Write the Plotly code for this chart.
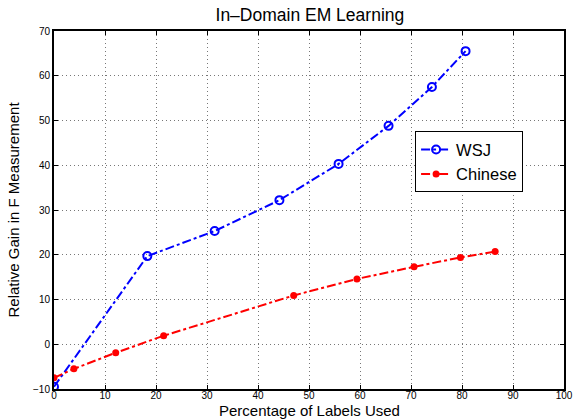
import plotly.graph_objects as go

wsj_x = [0, 18.3, 31.5, 44.2, 55.8, 65.6, 74.1, 80.7]
wsj_y = [-9.5, 19.7, 25.3, 32.2, 40.3, 48.8, 57.5, 65.5]
chn_x = [0, 3.9, 12.1, 21.5, 47.0, 59.4, 70.6, 79.7, 86.5]
chn_y = [-7.5, -5.5, -1.9, 1.9, 10.9, 14.6, 17.3, 19.4, 20.7]
x_ticks = [0, 10, 20, 30, 40, 50, 60, 70, 80, 90, 100]
y_ticks = [-10, 0, 10, 20, 30, 40, 50, 60, 70]

fig = go.Figure()
fig.add_trace(go.Scatter(
    x=wsj_x, y=wsj_y, name="WSJ", mode="lines+markers",
    line=dict(color="#0000ff", width=2, dash="dashdot"),
    marker=dict(symbol="circle-open", size=8, color="#0000ff", line=dict(width=2, color="#0000ff")),
))
fig.add_trace(go.Scatter(
    x=chn_x, y=chn_y, name="Chinese", mode="lines+markers",
    line=dict(color="#ff0000", width=2, dash="dashdot"),
    marker=dict(symbol="circle", size=7, color="#ff0000"),
))

axis_common = dict(
    showgrid=True, gridcolor="#777777", griddash="1px,3px", gridwidth=1,
    showline=True, linecolor="black", linewidth=2, mirror="ticks",
    ticks="inside", ticklen=4, tickcolor="black",
    zeroline=False, automargin=False,
)
fig.update_xaxes(range=[0, 100], tickvals=x_ticks, tickfont=dict(size=10, color="black"),
                 ticklabelstandoff=-4, **axis_common)
fig.update_yaxes(range=[-10, 70], tickvals=y_ticks, tickfont=dict(size=10, color="black"),
                 title=dict(text="Relative Gain in F Measurement", font=dict(size=15, color="black"), standoff=10),
                 **axis_common)

fig.add_annotation(
    text="Percentage of Labels Used", xref="paper", yref="paper",
    x=0.5, y=-30 / 358, xanchor="center", yanchor="bottom", yshift=-2,
    showarrow=False, font=dict(size=15, color="black"),
)

fig.update_layout(
    width=576, height=419,
    margin=dict(l=54, r=12, t=31, b=30),
    paper_bgcolor="white", plot_bgcolor="white",
    font=dict(family="Liberation Sans, Arial, sans-serif", color="black"),
    title=dict(text="In\u2013Domain EM Learning", x=0.538, xanchor="center", y=0.978, yanchor="top",
               font=dict(size=17.5, color="black")),
    legend=dict(x=0.708, y=0.72, xanchor="left", yanchor="top",
                bordercolor="black", borderwidth=1, bgcolor="white",
                font=dict(size=16.5, color="black"), tracegroupgap=0,
                itemwidth=30),
    showlegend=True,
)

fig.write_html("out.html", config={"displayModeBar": False},
               post_script="document.body.style.margin='0';document.body.style.overflow='hidden';")
